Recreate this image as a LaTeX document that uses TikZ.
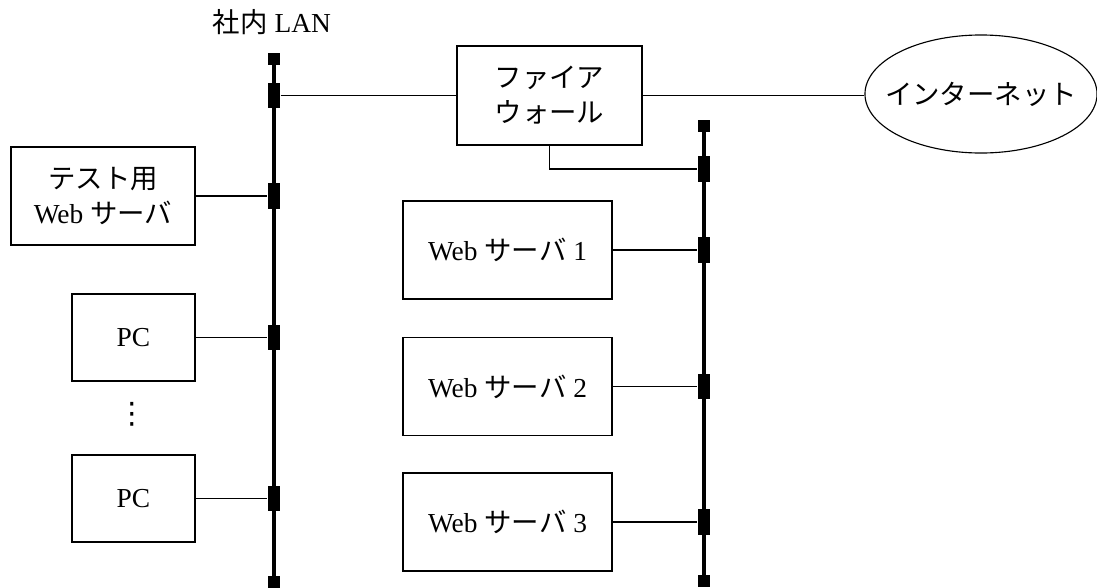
\documentclass[tikz,border=0pt]{standalone}
\usepackage{fontspec}
\setmainfont{Liberation Serif}
\newfontfamily\jpfont{Noto Sans CJK JP}
\newfontfamily\symfont{DejaVu Sans}
\newcommand{\ja}[1]{{\jpfont #1}}
\usetikzlibrary{shapes.geometric,positioning}

\begin{document}
\begin{tikzpicture}[x=0.025cm,y=-0.025cm,
        txt/.style={font=\fontsize{19.5}{25}\selectfont},
        box/.style={txt,draw,thick,rectangle,align=center,inner sep=0pt},
        tap/.style={fill=black,minimum width=0.32cm,minimum height=0.64cm,inner sep=0pt},
        term/.style={fill=black,minimum size=0.3cm,inner sep=0pt},
        bus/.style={line width=2.4pt},
        link/.style={thick}]
        \useasboundingbox (0,0) rectangle (1097,587);

        % LAN segments
        \node[term] (ltop) at (274,59) {};
        \node[term] (lbot) at (274,582) {};
        \node[term] (rtop) at (704,126) {};
        \node[term] (rbot) at (704,581) {};
        \draw[bus] (ltop.center) -- (lbot.center);
        \draw[bus] (rtop.center) -- (rbot.center);
        \node[txt] (lan) at (272,22) {\ja{社内} LAN};

        \foreach \y/\n in {95.5/l1,196/l2,337.5/l3,498.5/l4}
            \node[tap] (\n) at (274,\y) {};
        \foreach \y/\n in {169/r0,250/r1,386.5/r2,522/r3}
            \node[tap] (\n) at (704,\y) {};

        \node[box,minimum width=4.625cm,minimum height=2.475cm] (fw) at (549.5,95.5) {\ja{ファイア}\\\ja{ウォール}};
        \node[txt,draw,thick,ellipse,inner xsep=-0.45cm,inner ysep=0pt,minimum width=5.8cm,minimum height=2.95cm] (inet) at (981,94) {\ja{インターネット}};

        \node[box,minimum width=4.6cm,minimum height=2.45cm] (test) at (103,196) {\ja{テスト用}\\Web \ja{サーバ}};
        \node[box,minimum width=3.075cm,minimum height=2.175cm] (pc1) at (133.5,337.5) {PC};
        \node[font=\symfont\fontsize{21}{21}\selectfont,inner sep=0pt] (dots) at (132,414) {⋮};
        \node[box,minimum width=3.075cm,minimum height=2.175cm] (pc2) at (133.5,498.5) {PC};

        \node[box,minimum width=5.225cm,minimum height=2.45cm] (web1) at (507.5,250) {Web \ja{サーバ} 1};
        \node[box,minimum width=5.225cm,minimum height=2.45cm] (web2) at (507.5,386.5) {Web \ja{サーバ} 2};
        \node[box,minimum width=5.225cm,minimum height=2.45cm] (web3) at (507.5,522) {Web \ja{サーバ} 3};

        \draw[link] (l1) -- (fw);
        \draw[link] (fw) -- (inet.west |- fw);
        \draw[link] (fw.south) |- (r0);
        \draw[link] (test) -- (l2);
        \draw[link] (pc1) -- (l3);
        \draw[link] (pc2) -- (l4);
        \draw[link] (web1) -- (r1);
        \draw[link] (web2) -- (r2);
        \draw[link] (web3) -- (r3);
    \end{tikzpicture}
\end{document}
